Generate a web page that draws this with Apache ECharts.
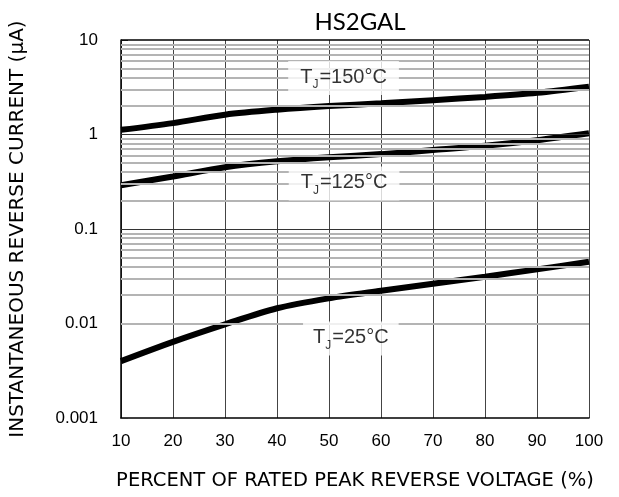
<!DOCTYPE html>
<html>
<head>
<meta charset="utf-8">
<script src="https://cdn.jsdelivr.net/npm/echarts@6/dist/echarts.min.js"></script>
<style>
html,body{margin:0;padding:0;background:#fff;}
#chart{width:619px;height:497px;}
</style>
</head>
<body>
<div id="chart"></div>
<script>
const xValues = [10, 20, 30, 40, 50, 60, 70, 80, 90, 100];
const tj150 = [1.12, 1.32, 1.62, 1.83, 2.0, 2.14, 2.31, 2.5, 2.76, 3.2];
const tj125 = [0.29, 0.36, 0.45, 0.52, 0.575, 0.62, 0.685, 0.76, 0.87, 1.03];
const tj25 = [0.0040, 0.0064, 0.0098, 0.0145, 0.0185, 0.0222, 0.0264, 0.0313, 0.0374, 0.045];
const yTickLabels = ['0.001', '0.01', '0.1', '1', '10'];
const decades = [0.001, 0.01, 0.1, 1];
const title = 'HS2GAL';
const xName = 'PERCENT OF RATED PEAK REVERSE VOLTAGE (%)';
const yName = 'INSTANTANEOUS REVERSE CURRENT (μA)';

const pair = (arr) => xValues.map((x, i) => [x, arr[i]]);

const gridLines = [];
decades.forEach((d) => {
  for (let m = 2; m <= 9; m++) {
    gridLines.push({ yAxis: d * m, lineStyle: { color: '#b4b4b4', width: 2, type: 'solid' } });
  }
});
gridLines.push({ yAxis: 0.01, lineStyle: { color: '#b4b4b4', width: 2, type: 'solid' } });
gridLines.push({ yAxis: 0.1, lineStyle: { color: '#333', width: 1, type: 'solid' } });
gridLines.push({ yAxis: 1, lineStyle: { color: '#333', width: 1, type: 'solid' } });

const font = '"Liberation Sans", Arial, sans-serif';
const wideFont = '"DejaVu Sans", sans-serif';
const labelStyle = {
  show: true,
  position: 'inside',
  backgroundColor: '#fff',
  color: '#000',
  fontFamily: font,
  fontSize: 20,
  padding: [6, 12, 6, 12],
  rich: {
    t: { fontSize: 20, fontFamily: font, color: '#000', verticalAlign: 'top', lineHeight: 22 },
    s: { fontSize: 12, fontFamily: font, color: '#000', verticalAlign: 'top', lineHeight: 12, padding: [12, 1, 0, 0] }
  }
};
const mk = (temp) => '{t|T}{s|J}{t|=' + temp + '°C}';

const lineSeries = (name, arr) => ({
  name, type: 'line', data: pair(arr), smooth: 0.3, showSymbol: false, z: 3,
  lineStyle: { color: '#000', width: 6 }
});

const chart = echarts.init(document.getElementById('chart'), null, { renderer: 'canvas' });
chart.setOption({
  animation: false,
  backgroundColor: '#fff',
  title: {
    text: title,
    left: 355,
    textAlign: 'center',
    top: 5,
    textStyle: { fontFamily: 'Lato', fontWeight: 'normal', fontSize: 24, color: '#000' }
  },
  grid: { left: 121, right: 30, top: 40, bottom: 79, show: false },
  xAxis: {
    type: 'value',
    min: 10, max: 100, interval: 10,
    name: xName,
    nameLocation: 'middle',
    nameGap: 53,
    nameTextStyle: { fontFamily: wideFont, fontSize: 19.5, color: '#000' },
    axisLine: { show: true, lineStyle: { color: '#000', width: 1.5 } },
    axisTick: { show: false },
    axisLabel: { margin: 15, fontFamily: font, fontSize: 17, color: '#000' },
    splitLine: { show: true, lineStyle: { color: '#444', width: 1 } }
  },
  yAxis: {
    type: 'log',
    logBase: 10,
    min: 0.001, max: 10,
    name: yName,
    nameLocation: 'middle',
    nameGap: 93,
    nameTextStyle: { fontFamily: wideFont, fontSize: 20, color: '#000' },
    axisLine: { show: true, lineStyle: { color: '#000', width: 1.5 } },
    axisTick: { show: true, inside: true, length: 7, lineStyle: { color: '#333' } },
    axisLabel: {
      margin: 23, fontFamily: font, fontSize: 17, color: '#000',
      formatter: (v) => yTickLabels.find((l) => Math.abs(Math.log10(+l) - Math.log10(v)) < 1e-6) || ''
    },
    splitLine: { show: false }
  },
  series: [
    {
      type: 'line', data: [], z: 1, silent: true,
      markLine: { silent: true, symbol: 'none', label: { show: false }, animation: false, data: gridLines }
    },
    {
      type: 'line', data: [], z: 1, silent: true,
      markLine: { silent: true, symbol: 'none', label: { show: false }, animation: false,
        data: [{ yAxis: 10, lineStyle: { color: '#000', width: 1.5, type: 'solid' } }] }
    },
    lineSeries('150', tj150),
    lineSeries('125', tj125),
    lineSeries('25', tj25),
    {
      type: 'scatter', z: 5, silent: true, symbolSize: 1,
      itemStyle: { color: 'rgba(0,0,0,0)' },
      data: [
        { value: [52.8, 3.96], label: Object.assign({}, labelStyle, { formatter: mk(150) }) },
        { value: [52.9, 0.303], label: Object.assign({}, labelStyle, { formatter: mk(125) }) },
        { value: [54.2, 0.00694], label: Object.assign({}, labelStyle, { padding: [6, 10, 6, 10], formatter: mk(25) }) }
      ]
    }
  ]
});
</script>
</body>
</html>
